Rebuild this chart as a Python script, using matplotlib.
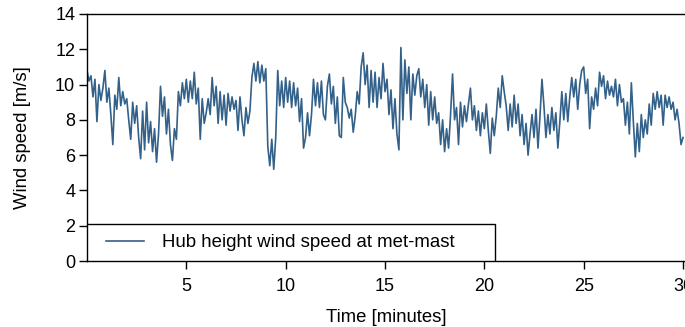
import numpy as np
import matplotlib
matplotlib.use("Agg")
import matplotlib.pyplot as plt
from matplotlib.patches import Rectangle

plt.rcParams['font.family'] = ['Liberation Sans', 'DejaVu Sans']

# wind speed, one value every 0.1 minute (0 .. 30 min)
t_step = 0.1
wind_speed = [
    10.8, 10.2, 10.5, 9.3, 10.3, 7.9, 10.0, 9.1, 9.8, 10.8,
    9.0, 9.8, 8.3, 6.6, 9.4, 8.6, 10.4, 8.8, 9.6, 8.9,
    9.2, 8.0, 6.9, 9.0, 7.8, 8.8, 7.0, 5.8, 8.5, 6.3,
    9.0, 6.7, 7.9, 6.2, 7.5, 5.6, 7.2, 9.9, 8.2, 9.3,
    7.2, 8.6, 6.6, 5.7, 7.5, 6.9, 9.6, 8.8, 10.1, 9.2,
    10.3, 9.0, 10.2, 9.2, 10.7, 8.9, 9.8, 6.9, 9.2, 7.8,
    8.4, 9.2, 8.3, 10.4, 8.8, 9.9, 7.8, 9.6, 8.0, 9.4,
    7.7, 9.5, 8.5, 9.3, 8.6, 9.1, 7.4, 9.3, 8.0, 7.1,
    8.7, 7.8, 8.5, 10.4, 11.2, 10.2, 11.3, 10.1, 11.1, 10.2,
    10.9, 6.5, 5.4, 6.9, 5.2, 7.0, 10.8, 8.8, 10.2, 8.7,
    10.4, 9.0, 10.2, 8.7, 10.1, 8.8, 9.8, 7.9, 9.2, 6.4,
    7.0, 8.4, 7.1, 8.3, 10.3, 8.8, 10.1, 8.7, 10.2, 8.3,
    8.0, 9.9, 10.6, 8.9, 9.9, 7.8, 9.3, 7.1, 7.0, 10.4,
    9.0, 8.7, 8.1, 8.6, 7.3, 8.2, 9.6, 8.9, 11.0, 11.8,
    10.0, 11.1, 8.7, 10.8, 9.0, 10.7, 8.7, 10.4, 9.2, 11.2,
    9.6, 10.3, 8.3, 9.7, 7.5, 9.2, 7.2, 6.3, 12.1, 8.0,
    11.4, 9.5, 11.0, 8.0, 10.6, 9.4, 10.5, 10.9, 9.3, 10.3,
    8.7, 10.0, 7.7, 9.6, 8.0, 9.3, 7.8, 8.4, 6.6, 8.0,
    6.2, 7.5, 6.4, 8.3, 10.6, 8.0, 8.7, 6.6, 9.0, 7.6,
    8.8, 7.9, 8.9, 9.8, 8.0, 8.8, 7.4, 8.5, 7.1, 8.4,
    7.5, 8.9, 7.4, 6.1, 8.1, 7.1, 8.2, 9.8, 8.7, 10.5,
    9.6, 8.8, 7.4, 8.9, 7.6, 9.4, 7.8, 8.9, 7.1, 8.3,
    6.6, 7.8, 6.0, 7.2, 8.3, 7.0, 8.6, 6.4, 8.2, 10.3,
    8.8, 7.0, 8.3, 7.2, 8.7, 7.4, 8.4, 6.4, 7.9, 9.6,
    8.0, 9.5, 7.9, 9.3, 10.4, 9.3, 10.3, 8.6, 10.0, 10.8,
    11.0, 9.5, 10.3, 7.5, 9.3, 8.6, 9.8, 8.8, 10.7, 9.9,
    10.5, 9.2, 10.2, 9.4, 9.9, 9.3, 10.3, 8.8, 10.0, 9.0,
    9.2, 7.7, 9.0, 7.2, 10.1, 7.9, 5.9, 7.8, 6.2, 8.3,
    7.0, 8.0, 7.2, 8.9, 7.7, 9.5, 8.6, 9.6, 8.7, 9.4,
    7.7, 9.4, 8.7, 9.3, 8.6, 9.0, 8.0, 8.6, 7.8, 6.6,
    7.0,
]
time_min = np.arange(len(wind_speed)) * t_step

x_ticks = [5, 10, 15, 20, 25, 30]
y_ticks = [0, 2, 4, 6, 8, 10, 12, 14]

fig = plt.figure(figsize=(6.85, 3.27), dpi=100)
ax = fig.add_axes([87 / 685, 66 / 327, 598 / 685, 247 / 327])

ax.plot(time_min, wind_speed, color='#336189', lw=1.2,
        label='Hub height wind speed at met-mast')

ax.set_xlim(0, 30.1)
ax.set_ylim(0, 14)
ax.set_xticks(x_ticks)
ax.set_yticks(y_ticks)
ax.tick_params(direction='out', length=5.5, width=1, labelsize=13, pad=3)
ax.tick_params(axis='x', pad=7)
ax.spines['right'].set_visible(False)
for s in ['left', 'top', 'bottom']:
    ax.spines[s].set_linewidth(1.0)

ax.set_xlabel('Time [minutes]', fontsize=13.3, labelpad=10)
ax.set_ylabel('Wind speed [m/s]', fontsize=13.3, labelpad=17)

# legend box
ax.add_patch(Rectangle((0, 0), 408 / 598, 37 / 247, transform=ax.transAxes,
                       facecolor='white', edgecolor='black', lw=1.0, zorder=3))
leg = ax.legend(loc='center left', bbox_to_anchor=(10 / 598, 18.5 / 247),
                frameon=False, borderpad=0, handlelength=2.05,
                handletextpad=0.95, fontsize=13.4)
leg.set_zorder(4)

fig.savefig('out.png', dpi=100)
